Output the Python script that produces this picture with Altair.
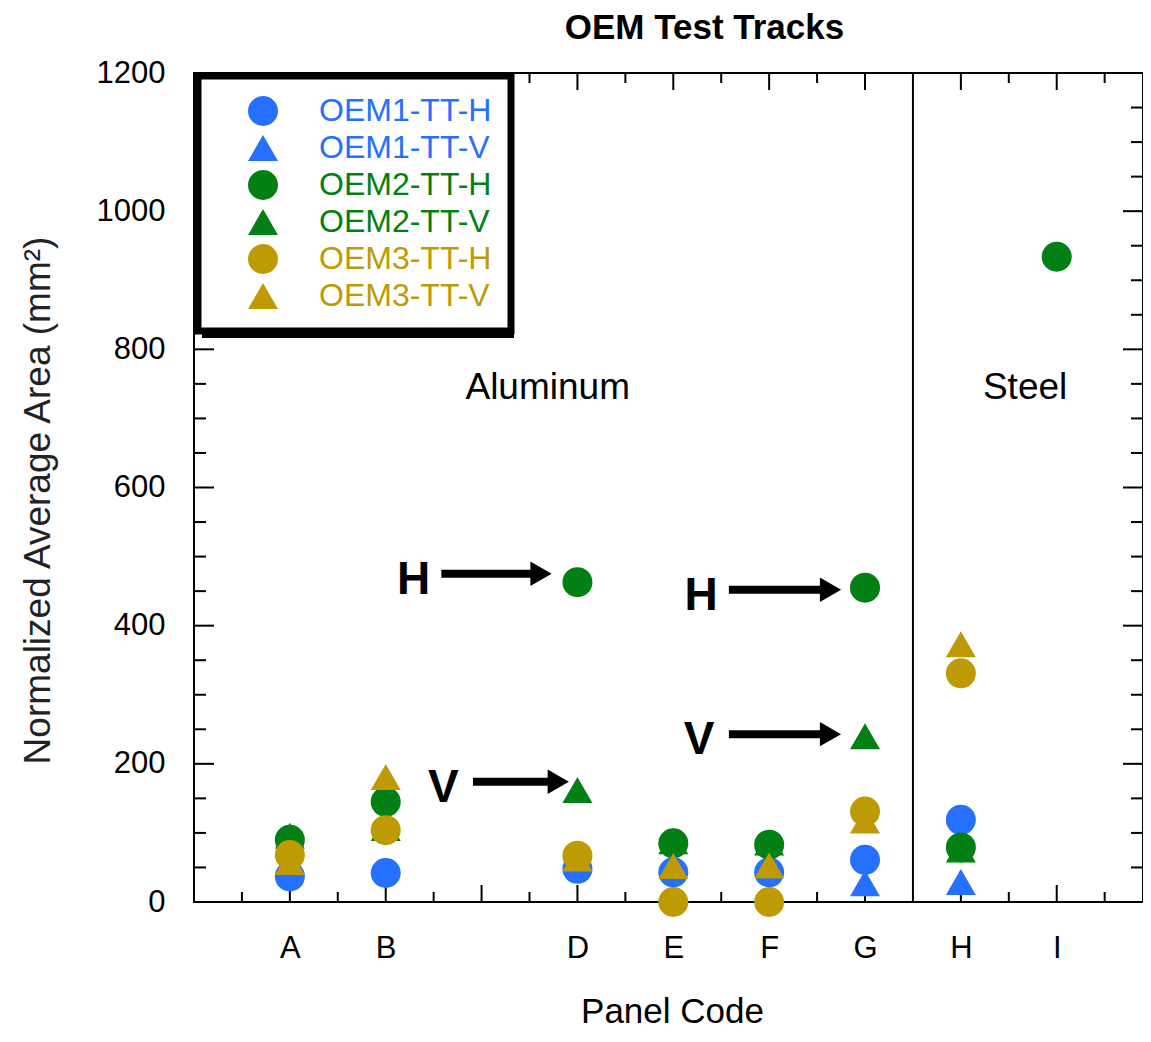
import altair as alt
import pandas as pd

# ---------------- data ----------------
panel_codes = ["A", "B", "C", "D", "E", "F", "G", "H", "I"]
series_names = ["OEM1-TT-H", "OEM1-TT-V", "OEM2-TT-H", "OEM2-TT-V", "OEM3-TT-H", "OEM3-TT-V"]
series_colors = ["#2570FF", "#2570FF", "#038014", "#038014", "#BE9B04", "#BE9B04"]
series_shapes = ["circle", "triangle-up", "circle", "triangle-up", "circle", "triangle-up"]

#            A     B    C     D    E    F    G    H    I
oem1_h = [37,   42, None,  48,  43,  43,  61, 119, None]
oem1_v = [None, None, None, None, None, None, 27, 29, None]
oem2_h = [90,  145, None, 463,  85,  83, 455,  79, 934]
oem2_v = [96,  107, None, 162,  88,  86, 240,  76, None]
oem3_h = [68,  104, None,  67,   0,   0, 131, 331, None]
oem3_v = [58,  181, None,  63,  52,  53, 118, 373, None]
series_values = [oem1_h, oem1_v, oem2_h, oem2_v, oem3_h, oem3_v]

y_major_ticks = [0, 200, 400, 600, 800, 1000, 1200]
y_minor_ticks = [50, 100, 150, 250, 300, 350, 450, 500, 550, 650, 700, 750,
                 850, 900, 950, 1050, 1100, 1150]
x_major_ticks = [1, 2, 3, 4, 5, 6, 7, 8, 9]
x_minor_ticks = [0.5, 1.5, 2.5, 3.5, 4.5, 5.5, 6.5, 8.5, 9.5]

divider_x = [7.5]
region_labels = ["Aluminum", "Steel"]
region_x = [3.69, 8.67]
region_y = [744, 744]

annot_labels = ["H", "H", "V", "V"]
annot_x = [2.29, 5.29, 2.60, 5.27]
annot_y = [466, 443, 165, 235]
arrow_y = [475, 452, 174, 243]
arrow_start = [2.58, 5.58, 2.91, 5.58]
arrow_head = [3.62, 6.64, 3.80, 6.64]

# ---------------- build tables ----------------
rows = []
for name, vals in zip(series_names, series_values):
    for i, v in enumerate(vals):
        if v is not None:
            rows.append({"pos": i + 1, "code": panel_codes[i], "series": name, "area": v})
df = pd.DataFrame(rows)
x_label_positions = [int(p) for p in sorted(df["pos"].unique().tolist())]

W, H = 949, 829
FONT = "Liberation Sans"
xscale = alt.Scale(domain=[0, 9.9], nice=False, zero=False)
yscale = alt.Scale(domain=[0, 1200], nice=False, zero=False)

label_array = "[''," + ",".join("'%s'" % c for c in panel_codes) + "]"

XAXIS = alt.Axis(
    values=x_label_positions, labelExpr=label_array + "[round(datum.value)]",
    ticks=False, tickSize=0, domain=False, grid=False,
    labelFont=FONT, labelFontSize=31, labelColor="black", labelPadding=31,
    title="Panel Code", titleFont=FONT, titleFontSize=35, titleFontWeight="normal",
    titleColor="black", titleX=478, titleY=120, titleBaseline="alphabetic")
YAXIS = alt.Axis(
    values=y_major_ticks, format="d", ticks=False, tickSize=0, domain=False, grid=False,
    labelFont=FONT, labelFontSize=31, labelColor="black", labelPadding=29,
    title="Normalized Average Area (mm²)", titleFont=FONT, titleFontSize=37,
    titleFontWeight="normal", titleColor="#222222", titleAngle=270,
    titleX=-137, titleY=427, titleBaseline="bottom", titleAlign="center")


def X(field):
    return alt.X(field, scale=xscale, axis=XAXIS)


def Y(field):
    return alt.Y(field, scale=yscale, axis=YAXIS)


c1, c2, c3 = series_colors[0], series_colors[2], series_colors[4]
label_color_expr = (
    "substring(datum.label,0,4)==='OEM1' ? '%s' : "
    "(substring(datum.label,0,4)==='OEM2' ? '%s' : '%s')" % (c1, c2, c3)
)

legend = alt.Legend(
    title=None, orient="none", legendX=4, legendY=3,
    labelFont=FONT, labelFontSize=32, labelLimit=400,
    labelColor=alt.ExprRef(label_color_expr),
    symbolSize=900, symbolOffset=30, labelOffset=40, padding=19, rowPadding=5,
    fillColor="white", strokeColor="black", symbolStrokeWidth=0,
)

points = alt.Chart(df).mark_point(filled=True, opacity=1, size=900, strokeWidth=0).encode(
    x=X("pos:Q"),
    y=Y("area:Q"),
    color=alt.Color("series:N", scale=alt.Scale(domain=series_names, range=series_colors), legend=legend),
    shape=alt.Shape("series:N", scale=alt.Scale(domain=series_names, range=series_shapes), legend=legend),
)


def yticks(vals, x0, x1):
    return alt.Chart(pd.DataFrame({"v": vals})).mark_rule(color="black", strokeWidth=2).encode(
        y=Y("v:Q"), x=alt.value(x0), x2=alt.value(x1))


def xticks(vals, y0, y1):
    return alt.Chart(pd.DataFrame({"p": vals})).mark_rule(color="black", strokeWidth=2).encode(
        x=X("p:Q"), y=alt.value(y0), y2=alt.value(y1))


tick_layers = [
    yticks(y_major_ticks, 0, 20), yticks(y_minor_ticks, 0, 12),
    yticks(y_major_ticks, W, W - 20), yticks(y_minor_ticks, W, W - 12),
    xticks(x_major_ticks, H, H - 17), xticks(x_minor_ticks, H, H - 10),
    xticks(x_major_ticks, 0, 17), xticks(x_minor_ticks, 0, 10),
]

divider = alt.Chart(pd.DataFrame({"x": divider_x, "y0": [0], "y1": [1200]})).mark_rule(
    color="black", strokeWidth=2).encode(x=X("x:Q"), y=Y("y0:Q"), y2="y1:Q")

regions = alt.Chart(pd.DataFrame({"t": region_labels, "x": region_x, "y": region_y})).mark_text(
    font=FONT, fontSize=37, color="black", align="center", baseline="middle").encode(
    x=X("x:Q"), y=Y("y:Q"), text="t:N")

annot_df = pd.DataFrame({"t": annot_labels, "x": annot_x, "y": annot_y,
                         "ay": arrow_y, "a0": arrow_start, "a1": arrow_head})
annot_text = alt.Chart(annot_df).mark_text(
    font=FONT, fontSize=46, fontWeight="bold", color="black", align="center", baseline="middle").encode(
    x=X("x:Q"), y=Y("y:Q"), text="t:N")
arrow_shaft = alt.Chart(annot_df).mark_rule(color="black", strokeWidth=8, strokeCap="butt").encode(
    x=X("a0:Q"), x2="a1:Q", y=Y("ay:Q"))
arrow_tip = alt.Chart(annot_df).mark_point(
    shape="triangle-right", filled=True, color="black", opacity=1, size=600, strokeWidth=0).encode(
    x=X("a1:Q"), y=Y("ay:Q"))

shadow = alt.Chart(pd.DataFrame({"k": [0]})).mark_rect(color="black").encode(
    x=alt.value(8), x2=alt.value(320), y=alt.value(8), y2=alt.value(265))

chart = alt.layer(
    *tick_layers, divider, regions, annot_text, arrow_shaft, arrow_tip, shadow, points
).properties(
    width=W, height=H,
    autosize=alt.AutoSizeParams(type="none"),
    padding={"left": 186, "top": 65, "right": 0, "bottom": 128},
    title=alt.TitleParams("OEM Test Tracks", font=FONT, fontSize=35, fontWeight="bold",
                          color="black", anchor="middle", dx=36, offset=11),
).configure_view(stroke="black", strokeWidth=2).configure_legend(strokeWidth=7)

chart.save("out.html", embed_options={"renderer": "svg", "actions": False})
